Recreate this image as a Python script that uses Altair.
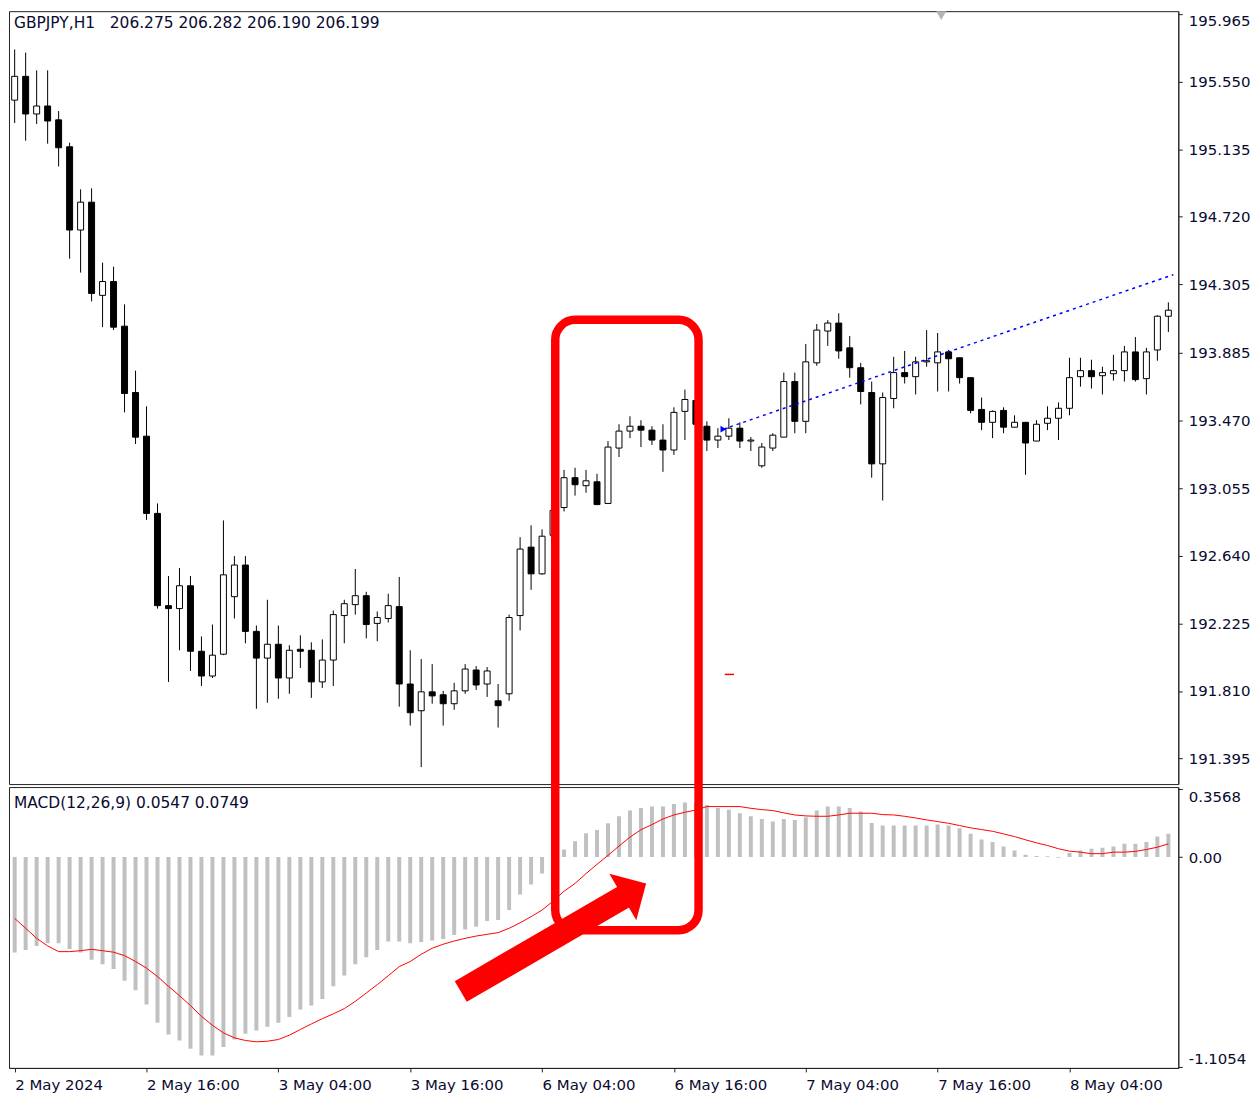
import json
import numpy as np
import pandas as pd
import altair as alt

# ---------------- data ----------------
x_labels = ["2 May 2024", "2 May 16:00", "3 May 04:00", "3 May 16:00", "6 May 04:00",
            "6 May 16:00", "7 May 04:00", "7 May 16:00", "8 May 04:00"]
x_label_bars = [0, 12, 24, 36, 48, 60, 72, 84, 96]

price_ticks = [195.965, 195.550, 195.135, 194.720, 194.305, 193.885,
               193.470, 193.055, 192.640, 192.225, 191.810, 191.395]
macd_ticks = [0.3568, 0.0, -1.1054]
macd_tick_text = ["0.3568", "0.00", "-1.1054"]

opens = [195.436, 195.582, 195.351, 195.400, 195.315, 195.150, 194.639, 194.810, 194.238, 194.323,
         194.049, 193.642, 193.374, 192.900, 192.334, 192.316, 192.456, 192.054, 191.902, 192.036,
         192.389, 192.583, 192.176, 192.012, 192.097, 191.890, 192.066, 192.060, 191.866, 192.000,
         192.273, 192.340, 192.395, 192.225, 192.255, 192.328, 191.853, 191.689, 191.805, 191.787,
         191.732, 191.811, 191.939, 191.853, 191.750, 191.793, 192.273, 192.693, 192.529, 192.766,
         192.936, 193.119, 193.070, 193.094, 192.961, 193.301, 193.405, 193.435, 193.411, 193.350,
         193.289, 193.526, 193.593, 193.435, 193.350, 193.374, 193.423, 193.344, 193.192, 193.301,
         193.368, 193.709, 193.465, 193.824, 194.019, 194.068, 193.916, 193.794, 193.642, 193.204,
         193.605, 193.764, 193.739, 193.830, 193.824, 193.891, 193.855, 193.733, 193.538, 193.459,
         193.532, 193.429, 193.459, 193.344, 193.453, 193.484, 193.545, 193.739, 193.776, 193.745,
         193.757, 193.776, 193.891, 193.727, 193.903, 194.110]
highs = [195.747, 195.728, 195.619, 195.619, 195.369, 195.175, 194.889, 194.895, 194.439, 194.414,
         194.183, 193.776, 193.557, 192.961, 192.516, 192.565, 192.516, 192.145, 192.218, 192.857,
         192.638, 192.638, 192.212, 192.370, 192.212, 192.091, 192.152, 192.109, 192.127, 192.304,
         192.370, 192.559, 192.419, 192.298, 192.407, 192.510, 192.060, 192.006, 191.975, 191.811,
         191.860, 191.975, 191.963, 191.957, 191.853, 192.279, 192.754, 192.827, 192.802, 192.961,
         193.167, 193.180, 193.167, 193.143, 193.344, 193.447, 193.496, 193.472, 193.435, 193.447,
         193.551, 193.660, 193.618, 193.465, 193.423, 193.484, 193.459, 193.368, 193.332, 193.392,
         193.764, 193.764, 193.940, 194.062, 194.086, 194.128, 193.989, 193.824, 193.709, 193.642,
         193.861, 193.897, 193.861, 194.025, 194.007, 193.903, 193.855, 193.733, 193.611, 193.532,
         193.551, 193.502, 193.459, 193.472, 193.557, 193.581, 193.855, 193.855, 193.843, 193.800,
         193.873, 193.928, 193.982, 193.916, 194.116, 194.195]
lows = [195.296, 195.187, 195.290, 195.169, 195.029, 194.463, 194.378, 194.201, 194.043, 194.025,
        193.520, 193.326, 192.860, 192.316, 191.866, 192.060, 191.933, 191.841, 191.890, 192.030,
        192.255, 192.103, 191.701, 191.738, 191.762, 191.793, 191.951, 191.768, 191.829, 191.841,
        192.103, 192.279, 192.133, 192.115, 192.231, 191.714, 191.598, 191.343, 191.732, 191.598,
        191.695, 191.793, 191.817, 191.774, 191.586, 191.750, 192.182, 192.431, 192.523, 192.748,
        192.912, 193.009, 193.027, 192.954, 192.961, 193.246, 193.362, 193.307, 193.320, 193.155,
        193.259, 193.350, 193.417, 193.283, 193.301, 193.350, 193.301, 193.283, 193.180, 193.283,
        193.368, 193.392, 193.392, 193.806, 193.928, 193.849, 193.733, 193.569, 193.119, 192.979,
        193.545, 193.697, 193.630, 193.800, 193.648, 193.648, 193.697, 193.514, 193.411, 193.362,
        193.392, 193.429, 193.137, 193.344, 193.411, 193.350, 193.502, 193.678, 193.666, 193.630,
        193.715, 193.709, 193.709, 193.630, 193.837, 194.013]
closes = [195.582, 195.351, 195.400, 195.308, 195.144, 194.639, 194.810, 194.250, 194.323, 194.043,
          193.636, 193.368, 192.900, 192.334, 192.316, 192.456, 192.054, 191.902, 192.030, 192.523,
          192.583, 192.176, 192.012, 192.097, 191.890, 192.060, 192.054, 191.866, 192.000, 192.279,
          192.346, 192.395, 192.218, 192.261, 192.334, 191.853, 191.677, 191.805, 191.780, 191.732,
          191.811, 191.945, 191.847, 191.933, 191.720, 192.261, 192.681, 192.529, 192.760, 192.918,
          193.119, 193.076, 193.100, 192.954, 193.307, 193.405, 193.435, 193.411, 193.350, 193.289,
          193.520, 193.599, 193.447, 193.350, 193.374, 193.423, 193.344, 193.350, 193.307, 193.380,
          193.709, 193.465, 193.830, 194.025, 194.068, 193.897, 193.794, 193.648, 193.204, 193.611,
          193.764, 193.739, 193.830, 193.837, 193.891, 193.849, 193.733, 193.532, 193.459, 193.526,
          193.429, 193.459, 193.332, 193.447, 193.484, 193.545, 193.733, 193.776, 193.739, 193.764,
          193.776, 193.891, 193.721, 193.891, 194.110, 194.147]

macd_hist = [-0.503, -0.489, -0.468, -0.454, -0.454, -0.484, -0.503, -0.541, -0.564, -0.590,
             -0.651, -0.702, -0.777, -0.873, -0.934, -0.966, -1.010, -1.045, -1.045, -1.001,
             -0.961, -0.931, -0.914, -0.894, -0.873, -0.842, -0.803, -0.782, -0.748, -0.681,
             -0.624, -0.564, -0.527, -0.489, -0.445, -0.445, -0.454, -0.447, -0.440, -0.431,
             -0.410, -0.381, -0.367, -0.337, -0.332, -0.279, -0.197, -0.145, -0.087, -0.020,
             0.040, 0.084, 0.126, 0.143, 0.178, 0.215, 0.245, 0.259, 0.267, 0.267,
             0.280, 0.288, 0.285, 0.275, 0.259, 0.250, 0.231, 0.215, 0.201, 0.187,
             0.201, 0.196, 0.210, 0.245, 0.266, 0.266, 0.259, 0.240, 0.180, 0.166,
             0.166, 0.166, 0.166, 0.166, 0.171, 0.166, 0.152, 0.123, 0.093, 0.079,
             0.056, 0.035, 0.012, 0.006, 0.004, -0.003, 0.021, 0.035, 0.044, 0.049,
             0.056, 0.070, 0.070, 0.079, 0.108, 0.123]
macd_signal = [-0.323, -0.375, -0.428, -0.468, -0.498, -0.498, -0.493, -0.486, -0.493, -0.501,
               -0.519, -0.550, -0.585, -0.629, -0.681, -0.730, -0.782, -0.839, -0.886, -0.926,
               -0.952, -0.966, -0.973, -0.970, -0.961, -0.938, -0.908, -0.879, -0.851, -0.826,
               -0.798, -0.760, -0.716, -0.672, -0.625, -0.577, -0.550, -0.512, -0.480, -0.459,
               -0.442, -0.428, -0.416, -0.407, -0.398, -0.375, -0.346, -0.314, -0.279, -0.232,
               -0.180, -0.139, -0.087, -0.038, 0.009, 0.058, 0.105, 0.144, 0.171, 0.201,
               0.222, 0.236, 0.248, 0.266, 0.266, 0.266, 0.266, 0.257, 0.250, 0.245,
               0.233, 0.222, 0.217, 0.215, 0.215, 0.222, 0.231, 0.231, 0.231, 0.224,
               0.222, 0.215, 0.206, 0.196, 0.187, 0.178, 0.166, 0.154, 0.145, 0.136,
               0.122, 0.108, 0.091, 0.075, 0.061, 0.044, 0.031, 0.026, 0.018, 0.018,
               0.026, 0.026, 0.030, 0.040, 0.052, 0.070]

title_main = "GBPJPY,H1\u00a0\u00a0\u00a0206.275 206.282 206.190 206.199"
title_macd = "MACD(12,26,9) 0.0547 0.0749"

# annotations (in data units: bar index / price / MACD value)
box_bars = [49.2, 62.24]
box_macd = [2.83, -0.385]
arrow_shaft_bars = [40.6, 55.8]
arrow_shaft_macd = [-0.708, -0.197]
arrow_head_bar, arrow_head_macd = 56.41, -0.1745
trend_bars = [64.5, 105.45]
trend_prices = [193.417, 194.365]
dash_bars = [64.63, 65.47]
dash_price = 191.912

# ---------------- chart ----------------
n = len(opens)
df = pd.DataFrame({"i": np.arange(n), "open": opens, "high": highs, "low": lows,
                   "close": closes, "hist": macd_hist, "signal": macd_signal})
df["dir"] = np.where(df["close"] >= df["open"], "up", "down")
df["zero"] = 0.0

FONT = "DejaVu Sans"
TXT = "#0a0a30"
AX = "#222222"
W, H_MAIN, H_MACD = 1174, 776, 282

xs = alt.Scale(domain=[-0.063, 105.45], nice=False, zero=False)
ps = alt.Scale(domain=[191.239, 195.982], nice=False, zero=False)
ms = alt.Scale(domain=[-1.1106, 0.3689], nice=False, zero=False)

price_axis = alt.Axis(orient="right", values=price_ticks, format=".3f", grid=False, title=None,
                      tickSize=4, tickColor=AX, domainColor=AX, labelPadding=6,
                      labelFont=FONT, labelFontSize=15, labelColor=TXT,
                      labelOverlap=False, labelFlush=False,
                      labelBaseline={"expr": "datum.value > 195.9 ? 'top' : 'middle'"})

macd_label_expr = "datum.value > 0.3 ? '%s' : (datum.value < -1 ? '%s' : '%s')" % (
    macd_tick_text[0], macd_tick_text[2], macd_tick_text[1])
macd_axis = alt.Axis(orient="right", values=macd_ticks, grid=False, title=None,
                     tickSize=4, tickColor=AX, domainColor=AX, labelPadding=6,
                     labelFont=FONT, labelFontSize=15, labelColor=TXT,
                     labelOverlap=False, labelFlush=False, labelExpr=macd_label_expr,
                     labelBaseline={"expr": "datum.value > 0.3 ? 'top' : (datum.value < -1 ? 'bottom' : 'middle')"})

x_axis = alt.Axis(values=x_label_bars, grid=False, title=None, tickSize=4, tickColor=AX,
                  domainColor=AX, labelPadding=6, labelAlign="left", labelFont=FONT,
                  labelFontSize=15, labelColor=TXT, labelOverlap=False, labelFlush=False,
                  labelExpr="%s[indexof(%s, datum.value)]" % (json.dumps(x_labels), json.dumps(x_label_bars)))


def XM(f):
    return alt.X(f, type="quantitative", scale=xs, axis=None)


def YP(f):
    return alt.Y(f, type="quantitative", scale=ps, axis=price_axis)


def XB(f):
    return alt.X(f, type="quantitative", scale=xs, axis=x_axis)


def YM(f):
    return alt.Y(f, type="quantitative", scale=ms, axis=macd_axis)


wick = alt.Chart(df).mark_rule(color="black", strokeWidth=1, clip=True).encode(
    x=XM("i"), y=YP("low"), y2="high:Q")
body = alt.Chart(df).mark_bar(size=6, stroke="black", strokeWidth=1, clip=True).encode(
    x=XM("i"), y=YP("open"), y2="close:Q",
    fill=alt.Fill("dir:N", scale=alt.Scale(domain=["up", "down"], range=["#ffffff", "#000000"]),
                  legend=None))

trend_df = pd.DataFrame({"i": trend_bars, "p": trend_prices})
trend = alt.Chart(trend_df).mark_line(color="#0000ff", strokeWidth=1.5, strokeDash=[3, 4]).encode(
    x=XM("i"), y=YP("p"))
anchor = alt.Chart(trend_df.iloc[:1]).mark_point(shape="triangle-right", filled=True, color="#0000ff",
                                                  size=45, opacity=1).encode(x=XM("i"), y=YP("p"))
dash_df = pd.DataFrame({"a": [dash_bars[0]], "b": [dash_bars[1]], "p": [dash_price]})
dash = alt.Chart(dash_df).mark_rule(color="#ff0000", strokeWidth=1.5).encode(
    x=XM("a"), x2="b:Q", y=YP("p"))

t_main = alt.Chart(pd.DataFrame({"t": [title_main]})).mark_text(
    align="left", baseline="middle", font=FONT, fontSize=15.5, color=TXT).encode(
    text="t:N", x=alt.value(5), y=alt.value(12))
shift_mark = alt.Chart(pd.DataFrame({"k": [0]})).mark_point(
    shape="triangle-down", filled=True, color="#b4b4b4", size=120, opacity=1, clip=True).encode(
    x=alt.value(936), y=alt.value(4))

main = alt.layer(wick, body, trend, anchor, dash, t_main, shift_mark).properties(width=W, height=H_MAIN)

hist_bar = alt.Chart(df).mark_bar(size=4, color="#c0c0c0", clip=True).encode(
    x=XB("i"), y=YM("hist"), y2="zero:Q")
sig = alt.Chart(df).mark_line(color="#ff0000", strokeWidth=1, clip=True).encode(
    x=XB("i"), y=YM("signal"))
t_macd = alt.Chart(pd.DataFrame({"t": [title_macd]})).mark_text(
    align="left", baseline="middle", font=FONT, fontSize=15.5, color=TXT).encode(
    text="t:N", x=alt.value(5), y=alt.value(16))

box_df = pd.DataFrame({"a": [box_bars[0]], "b": [box_bars[1]], "t": [box_macd[0]], "u": [box_macd[1]]})
box = alt.Chart(box_df).mark_rect(fill="#ffffff", fillOpacity=0, stroke="#ff0000", strokeWidth=8.5,
                                  cornerRadius=20).encode(
    x=XB("a"), x2="b:Q", y=YM("t"), y2="u:Q")
shaft_df = pd.DataFrame({"i": arrow_shaft_bars, "v": arrow_shaft_macd})
shaft = alt.Chart(shaft_df).mark_line(color="#ff0000", strokeWidth=24, strokeCap="butt").encode(
    x=XB("i"), y=YM("v"))
head_df = pd.DataFrame({"i": [arrow_head_bar], "v": [arrow_head_macd]})
head = alt.Chart(head_df).mark_point(shape="M -0.5 -1 L 0.5 0 L -0.5 1 Z", size=2916, angle=330,
                                     filled=True, color="#ff0000", opacity=1, strokeWidth=0).encode(
    x=XB("i"), y=YM("v"))

macd = alt.layer(hist_bar, sig, t_macd, box, shaft, head).properties(width=W, height=H_MACD)

chart = alt.vconcat(main, macd, spacing=3, bounds="flush").properties(
    padding=0, background="#ffffff").configure_view(stroke=AX, strokeWidth=1)

chart.save("out.html", embed_options={"renderer": "svg", "actions": False})
